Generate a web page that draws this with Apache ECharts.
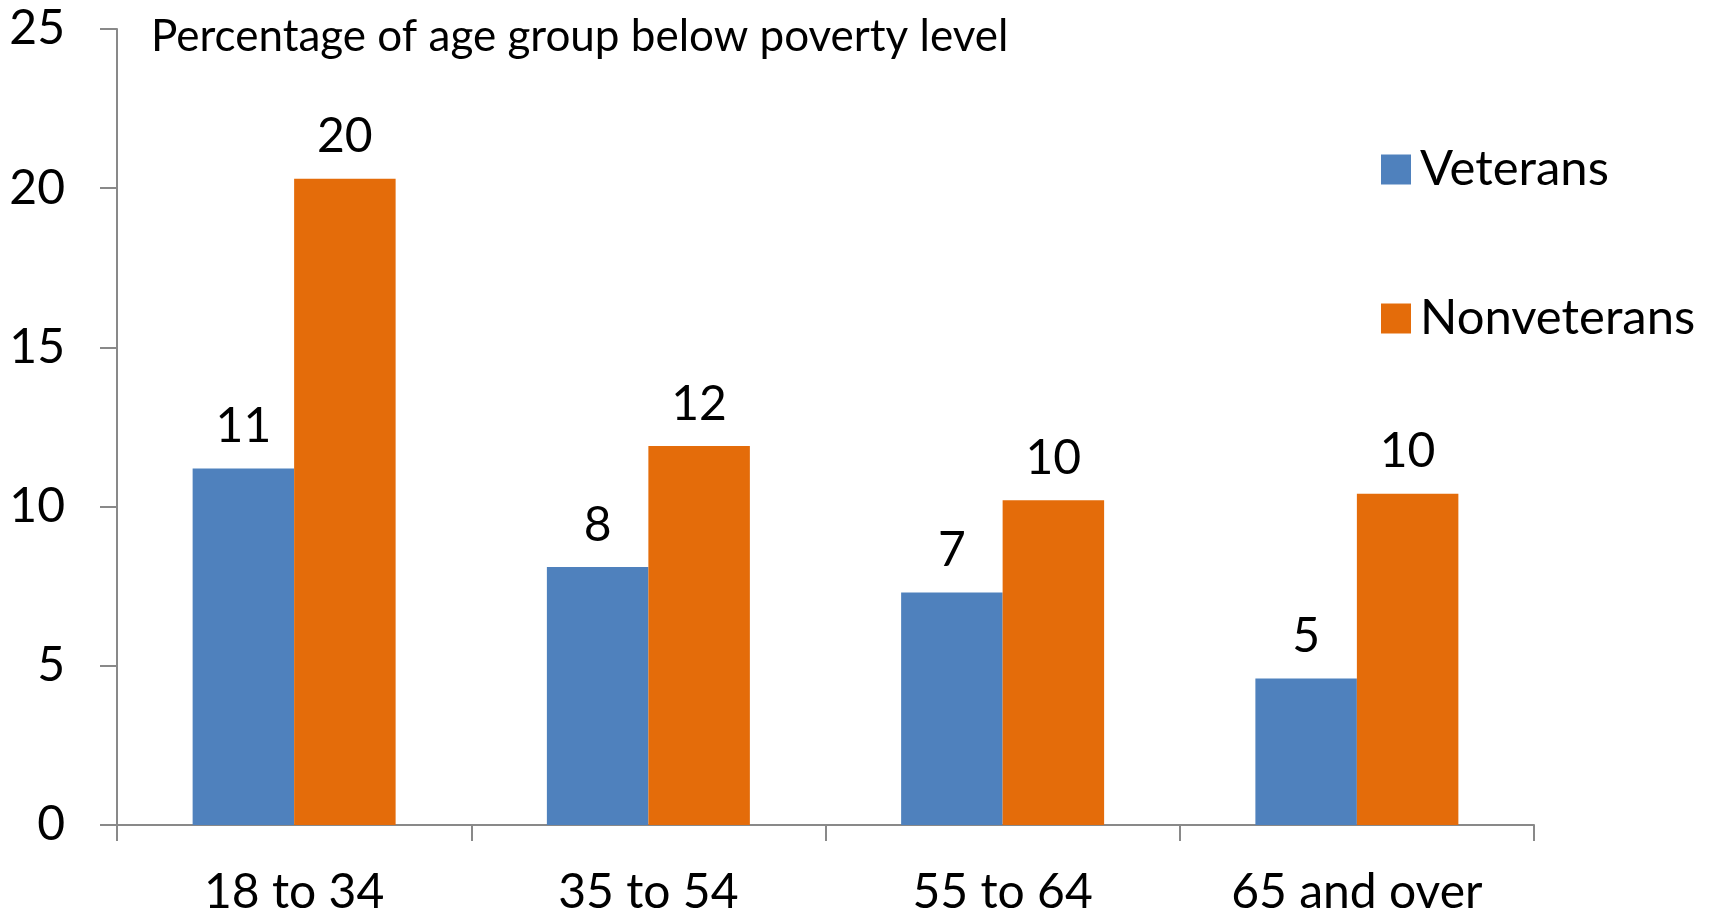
<!DOCTYPE html>
<html>
<head>
<meta charset="utf-8">
<script src="https://cdn.jsdelivr.net/npm/echarts@6/dist/echarts.min.js"></script>
<style>html,body{margin:0;padding:0;background:#fff}#c{width:1711px;height:917px}</style>
</head>
<body>
<div id="c"></div>
<script>
const categories = ['18 to 34', '35 to 54', '55 to 64', '65 and over'];
const veterans = [11.2, 8.1, 7.3, 4.6];
const nonveterans = [20.3, 11.9, 10.2, 10.4];
const yTicks = [0, 5, 10, 15, 20, 25];
const titleText = 'Percentage of age group below poverty level';

const FONT = 'Lato';
const axisColor = '#898989';
const chart = echarts.init(document.getElementById('c'));
chart.setOption({
  animation: false,
  backgroundColor: '#ffffff',
  textStyle: { fontFamily: FONT },
  title: {
    text: titleText,
    left: 146,
    top: 10,
    textStyle: { fontFamily: FONT, fontSize: 44, fontWeight: 'normal', color: '#000' }
  },
  legend: {
    orient: 'vertical',
    left: 1376,
    top: 140,
    itemWidth: 30,
    itemHeight: 30,
    itemGap: 100,
    icon: 'rect',
    textStyle: { fontFamily: FONT, fontSize: 49, color: '#000', padding: [0, 0, 0, 4] },
    data: ['Veterans', 'Nonveterans']
  },
  grid: { left: 117, right: 177, top: 29, bottom: 90, containLabel: false },
  xAxis: {
    type: 'category',
    data: categories,
    axisLine: { show: true, lineStyle: { color: axisColor, width: 2 } },
    axisTick: { show: true, alignWithLabel: false, length: 16, lineStyle: { color: axisColor, width: 2 } },
    axisLabel: { fontFamily: FONT, fontSize: 48, color: '#000', margin: 44 },
    splitLine: { show: false }
  },
  yAxis: {
    type: 'value',
    min: yTicks[0],
    max: yTicks[yTicks.length - 1],
    interval: 5,
    axisLine: { show: true, lineStyle: { color: axisColor, width: 2 } },
    axisTick: { show: true, inside: false, length: 17, lineStyle: { color: axisColor, width: 2 } },
    axisLabel: { fontFamily: FONT, fontSize: 48, color: '#000', margin: 52 },
    splitLine: { show: false }
  },
  series: [
    {
      name: 'Veterans',
      type: 'bar',
      data: veterans,
      barGap: '0%',
      barCategoryGap: '42.7%',
      itemStyle: { color: '#4F81BD' },
      label: { show: true, position: 'top', distance: 18, fontFamily: FONT, fontSize: 48, color: '#000',
        formatter: p => Math.round(p.value) }
    },
    {
      name: 'Nonveterans',
      type: 'bar',
      data: nonveterans,
      barGap: '0%',
      barCategoryGap: '42.7%',
      itemStyle: { color: '#E46C0A' },
      label: { show: true, position: 'top', distance: 18, fontFamily: FONT, fontSize: 48, color: '#000',
        formatter: p => Math.round(p.value) }
    }
  ]
});
</script>
</body>
</html>
